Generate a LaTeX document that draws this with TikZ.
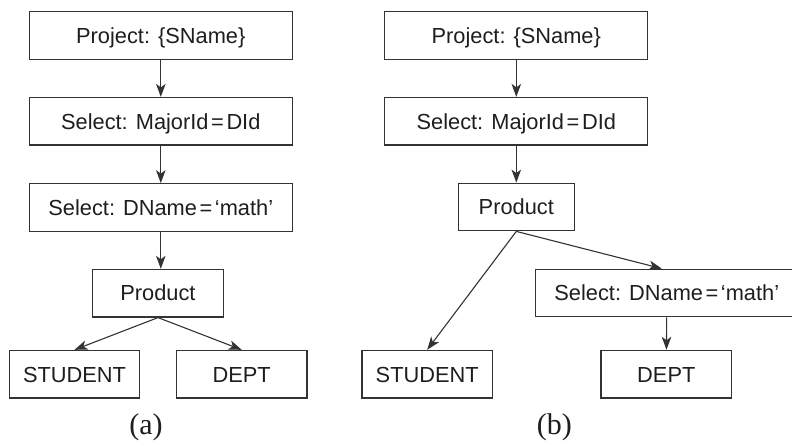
\documentclass[tikz,border=0pt]{standalone}
\usepackage{fontspec}
\setmainfont{Liberation Sans}
\newfontfamily\capfont{Liberation Serif}
\usetikzlibrary{arrows.meta}
\definecolor{ink}{HTML}{1E1E1E}
\definecolor{edge}{HTML}{333333}
\newcommand{\eqsym}{\hspace{0.12em}=\hspace{0.12em}}
\begin{document}
\begin{tikzpicture}[x=1bp,y=-1bp]
\tikzset{
  box/.style={draw=edge, line width=1.2bp, text=ink, inner sep=0pt,
    minimum height=47.6bp, text height=15.6bp, text depth=0pt,
    font=\fontsize{21.8bp}{25bp}\selectfont},
  wide/.style={box, minimum width=263bp},
  narrow/.style={box, minimum width=130.6bp},
  link/.style={draw=edge, line width=1.1bp, -{Stealth[length=13bp,width=9.5bp,inset=3.5bp]}},
  caption/.style={text=ink, font=\capfont\fontsize{30bp}{34bp}\selectfont, inner sep=0pt, anchor=base}
}
\useasboundingbox (0,0) rectangle (792,441);
\clip (0,0) rectangle (792,441);
\fill[white] (0,0) rectangle (792,441);

% (a)
\node[wide] (pa) at (160.8,35.5) {Project: \{SName\}};
\node[wide] (sa1) at (160.8,121.3) {Select: MajorId\eqsym DId};
\node[wide] (sa2) at (160.8,207.5) {Select: DName\eqsym‘math’};
\node[narrow] (proda) at (158,293.2) {Product};
\node[narrow] (studa) at (74.5,374.2) {STUDENT};
\node[narrow] (depta) at (241.7,374.2) {DEPT};
\node[caption] (capa) at (146,434.5) {(a)};

\draw[link] (pa) -- (sa1);
\draw[link] (sa1) -- (sa2);
\draw[link] (sa2.south) -- (sa2.south |- proda.north);
\draw[link] (proda.south) -- (studa.north);
\draw[link] (proda.south) -- (depta.north);

% (b)
\node[wide] (pb) at (516.3,35.5) {Project: \{SName\}};
\node[wide] (sb1) at (516.3,121.3) {Select: MajorId\eqsym DId};
\node[box, minimum width=116bp] (prodb) at (516.3,207) {Product};
\node[wide] (sb2) at (666.8,293) {Select: DName\eqsym‘math’};
\node[narrow] (studb) at (427.2,374.2) {STUDENT};
\node[narrow] (deptb) at (666.3,374.2) {DEPT};
\node[caption] (capb) at (554.3,434.5) {(b)};

\draw[link] (pb) -- (sb1);
\draw[link] (sb1) -- (prodb);
\draw[link] (prodb.south) -- (studb.north);
\draw[link] (prodb.south) -- ([xshift=-5bp]sb2.north);
\draw[link] (sb2) -- (deptb);
\end{tikzpicture}
\end{document}
